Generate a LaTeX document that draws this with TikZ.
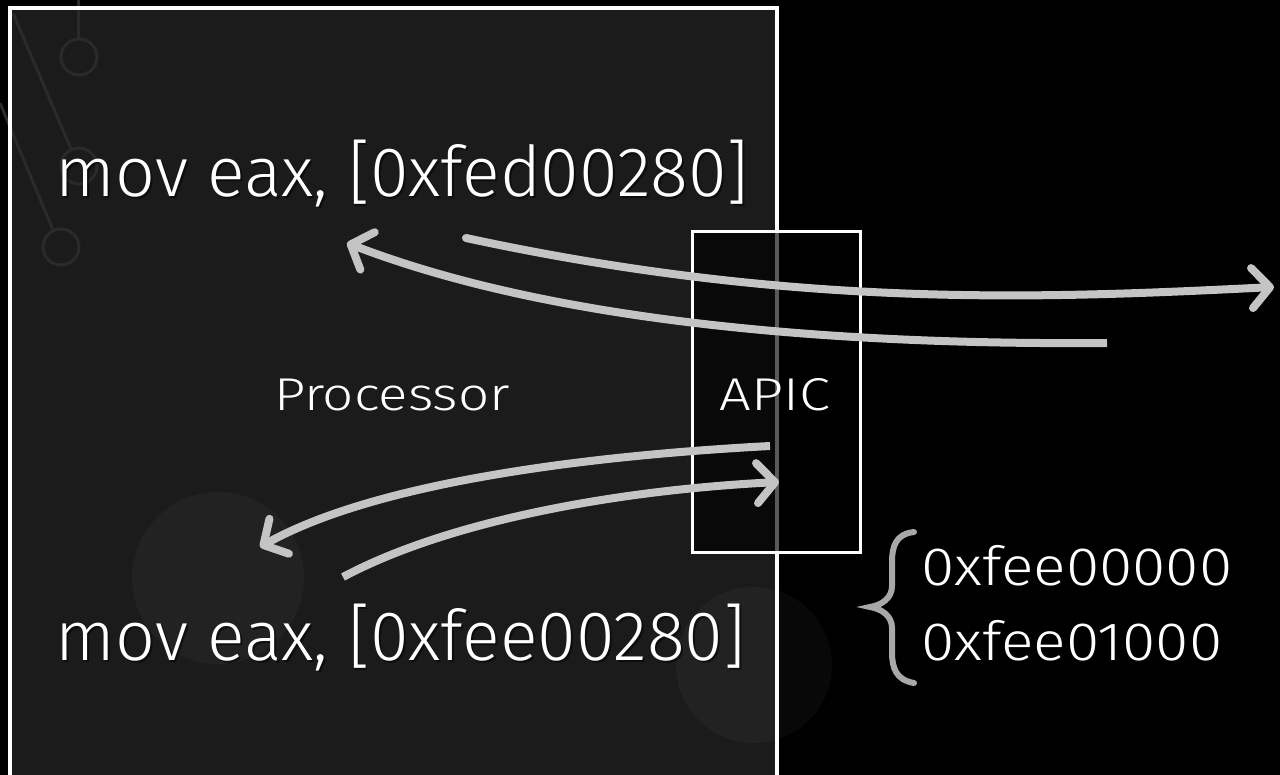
\documentclass[tikz,border=0pt]{standalone}
\usepackage{fontspec}
\setmainfont{Fira Sans}[UprightFont=* Light]
\usetikzlibrary{arrows.meta}
\definecolor{procfill}{HTML}{1B1B1B}
\definecolor{wire}{HTML}{C4C4C4}
\definecolor{bracegray}{HTML}{A8A8A8}
\definecolor{deco}{HTML}{2A2A2A}
\newcommand{\wide}[2]{\scalebox{#1}[1]{#2}}
\tikzset{
  codetext/.style={text=white, font=\fontsize{35}{40}\selectfont, inner sep=0pt, anchor=base west},
  labeltext/.style={text=white, font=\fontsize{23}{26}\selectfont, inner sep=0pt, anchor=base},
  hextext/.style={text=white, font=\fontsize{27}{30}\selectfont, inner sep=0pt, anchor=base west},
  shadowtext/.style={text=black, text opacity=0.5},
  flow/.style={draw=wire, line width=4pt, line cap=round,
    -{Straight Barb[length=9pt, width=20pt, line width=4pt, round]}},
}
\begin{document}
\begin{tikzpicture}[x=0.5pt, y=-0.5pt]
\useasboundingbox (0,0) rectangle (1280,775);
\clip (0,0) rectangle (1280,775);
\fill[black] (0,0) rectangle (1280,775);

% processor body
\fill[procfill] (10,8) rectangle (777,800);

% faint background ornaments
\begin{scope}[draw=deco, line width=1.5pt]
  \draw (78,0) -- (78,39);
  \draw (79,57) circle[radius=18];
  \draw (13,13) -- (71,149);
  \draw (79,166) circle[radius=18];
  \draw (0,103) -- (53,230);
  \draw (61,247) circle[radius=18];
\end{scope}
\fill[white, opacity=0.03] (218,578) circle[radius=86];
\fill[white, opacity=0.03] (754,665) circle[radius=78];

\draw[white, line width=2pt] (10,8) rectangle (777,800);

% APIC block, partly see-through
\node[draw=white, line width=1.5pt, fill=black, fill opacity=0.65, text opacity=1,
      minimum width=84pt, minimum height=160pt, inner sep=0pt] (apicbox) at (776.5,392) {};

% texts
\node[codetext, shadowtext] at (57,199) {mov eax, [0xfed00280]};
\node[codetext] (codeA) at (55,197) {mov eax, [0xfed00280]};
\node[codetext, shadowtext] at (57,662) {mov eax, [0xfee00280]};
\node[codetext] (codeB) at (55,660) {mov eax, [0xfee00280]};
\node[labeltext] (proc) at (392,410) {\wide{1.19}{Processor}};
\node[labeltext] (apic) at (775,410) {\wide{1.22}{APIC}};
\node[hextext] (hexA) at (921,585) {\wide{1.12}{0xfee00000}};
\node[hextext] (hexB) at (921,660) {\wide{1.12}{0xfee01000}};

% connector end points
\coordinate (a1s) at (466,238);
\coordinate (a1e) at (1274,287);
\coordinate (a2s) at (1107,343);
\coordinate (a2e) at (347,243);
\coordinate (a3s) at (770,446);
\coordinate (a3e) at (260,547);
\coordinate (a4s) at (343,577);
\coordinate (a4e) at (779,482);

% memory accesses
\draw[flow] (a1s) .. controls (800,310) and (1050,298) .. (a1e);
\draw[flow, line cap=butt] (a2s) .. controls (850,345) and (560,325) .. (a2e);
\draw[flow, line cap=butt] (a3s) .. controls (600,455) and (380,480) .. (a3e);
\draw[flow, line cap=butt] (a4s) .. controls (450,520) and (620,490) .. (a4e);

% brace grouping the two addresses
\draw[bracegray, line width=3pt, line cap=round]
  (914,532) .. controls (896,534) and (892,546) .. (892,562)
  -- (892,586) .. controls (892,598) and (882,605) .. (870,607)
  .. controls (882,609) and (892,616) .. (892,628)
  -- (892,652) .. controls (892,668) and (896,680) .. (914,683);
\end{tikzpicture}
\end{document}
